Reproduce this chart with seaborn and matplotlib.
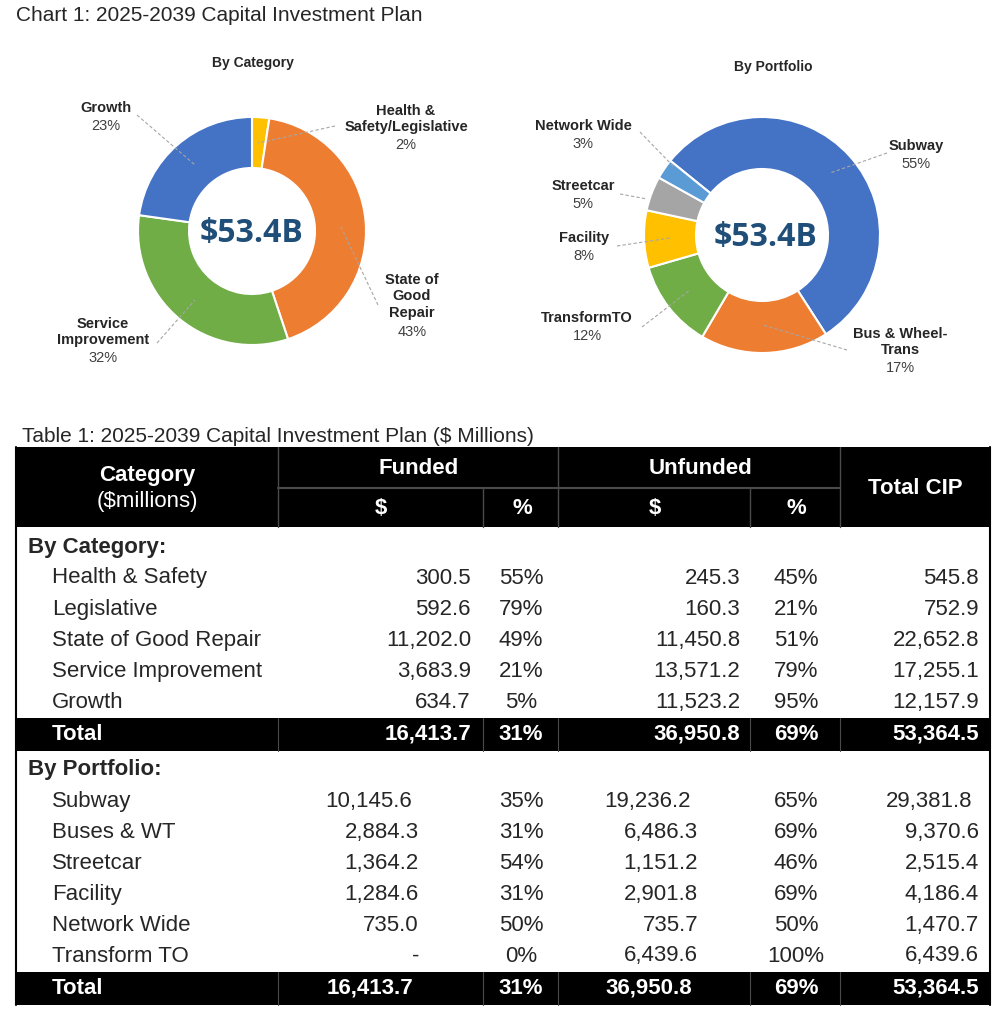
import matplotlib
matplotlib.use("Agg")
import matplotlib.pyplot as plt
import seaborn as sns
from matplotlib.patches import Rectangle

sns.set_style("white")
plt.rcParams['font.family'] = ['Liberation Sans', 'DejaVu Sans']

W, H = 1005, 1015

# Donut data
cat_names = ["Health &\nSafety/Legislative", "State of\nGood\nRepair", "Service\nImprovement", "Growth"]
cat_values = [1298.7, 22652.8, 17255.1, 12157.9]
cat_pct = ["2%", "43%", "32%", "23%"]

port_names = ["Subway", "Bus & Wheel-\nTrans", "TransformTO", "Facility", "Streetcar", "Network Wide"]
port_values = [29381.8, 9370.6, 6439.6, 4186.4, 2515.4, 1470.7]
port_pct = ["55%", "17%", "12%", "8%", "5%", "3%"]

center_label = "$53.4B"

office = sns.color_palette(["#4472C4", "#ED7D31", "#A5A5A5", "#FFC000", "#5B9BD5", "#70AD47"])
cat_colors = [office[3], office[1], office[5], office[0]]
port_colors = [office[0], office[1], office[5], office[3], office[2], office[4]]

# Table data
cat_rows = ["Health & Safety", "Legislative", "State of Good Repair", "Service Improvement", "Growth"]
cat_funded = [300.5, 592.6, 11202.0, 3683.9, 634.7]
cat_funded_pct = [55, 79, 49, 21, 5]
cat_unfunded = [245.3, 160.3, 11450.8, 13571.2, 11523.2]
cat_unfunded_pct = [45, 21, 51, 79, 95]
cat_total = [545.8, 752.9, 22652.8, 17255.1, 12157.9]

port_rows = ["Subway", "Buses & WT", "Streetcar", "Facility", "Network Wide", "Transform TO"]
port_funded = [10145.6, 2884.3, 1364.2, 1284.6, 735.0, None]
port_funded_pct = [35, 31, 54, 31, 50, 0]
port_unfunded = [19236.2, 6486.3, 1151.2, 2901.8, 735.7, 6439.6]
port_unfunded_pct = [65, 69, 46, 69, 50, 100]
port_total = [29381.8, 9370.6, 2515.4, 4186.4, 1470.7, 6439.6]

tot_funded, tot_funded_pct = 16413.7, 31
tot_unfunded, tot_unfunded_pct = 36950.8, 69
tot_cip = 53364.5

fig = plt.figure(figsize=(W / 100, H / 100), dpi=100)


def donut(cx, cy, r, r_in, values, colors, start):
    pad = 4
    ax = fig.add_axes([(cx - r - pad) / W, 1 - (cy + r + pad) / H, 2 * (r + pad) / W, 2 * (r + pad) / H])
    ax.pie(values, colors=colors, startangle=start, counterclock=False, radius=1,
           wedgeprops=dict(width=1 - r_in / r, edgecolor='white', linewidth=1.5))
    lim = (r + pad) / r
    ax.set_xlim(-lim, lim)
    ax.set_ylim(-lim, lim)
    ax.set_aspect('auto')
    ax.axis('off')
    return ax


donut(252, 231, 114, 63, cat_values, cat_colors, 90)
donut(762, 235, 118, 66, port_values, port_colors, 141)

# overlay in pixel coordinates
ov = fig.add_axes([0, 0, 1, 1])
ov.set_xlim(0, W)
ov.set_ylim(H, 0)
ov.axis('off')

ov.text(16, 15, "Chart 1: 2025-2039 Capital Investment Plan", fontsize=15, va='center')
ov.text(253, 63, "By Category", fontsize=10, weight='bold', ha='center', va='center', color='#262626')
ov.text(773, 67, "By Portfolio", fontsize=10, weight='bold', ha='center', va='center', color='#262626')

for x, y in [(252, 233), (766, 237)]:
    ov.text(x, y, center_label, family=['Open Sans', 'DejaVu Sans'], weight='bold', fontsize=23,
            color='#1F4E79', ha='center', va='center')

LH = 17.5


def label(x, y, name, pct):
    n = name.count("\n") + 1
    ov.text(x, y + (n - 1) * LH / 2, name, ha='center', va='center', weight='bold',
            fontsize=10.5, color='#262626', linespacing=1.2)
    ov.text(x, y + n * LH, pct, ha='center', va='center', fontsize=10.5, color='#404040')


def leader(x1, y1, x2, y2):
    ov.plot([x1, x2], [y1, y2], color='#A6A6A6', lw=0.8, ls=(0, (3, 2)))


cat_pos = [(406, 110), (412, 279), (103, 323), (106, 108)]
cat_lines = [(335, 126, 258, 143), (378, 305, 340, 225), (157, 343, 195, 300), (137, 115, 195, 165)]
for (x, y), nm, p, ln in zip(cat_pos, cat_names, cat_pct, cat_lines):
    label(x, y, nm, p)
    leader(*ln)

port_pos = [(916, 146), (900, 333), (587, 318), (584, 238), (583, 186), (583, 126)]
port_lines = [(887, 153, 830, 173), (847, 350, 763, 325), (642, 327, 690, 290),
              (617, 246, 670, 238), (620, 194, 647, 199), (640, 132, 675, 168)]
for (x, y), nm, p, ln in zip(port_pos, port_names, port_pct, port_lines):
    label(x, y, nm, p)
    leader(*ln)

# Table
FS = 16
ov.text(22, 436, "Table 1: 2025-2039 Capital Investment Plan ($ Millions)", fontsize=15, va='center')
L, R = 16, 990
ov.add_patch(Rectangle((L, 447), R - L, 80, color='black', lw=0))
grey = '#4a4a4a'
for x in [278, 558, 840]:
    ov.plot([x, x], [447, 527], color=grey, lw=1)
ov.plot([278, 840], [488, 488], color=grey, lw=1.5)
for x in [483, 750]:
    ov.plot([x, x], [488, 527], color=grey, lw=1)

hdr = dict(color='white', fontsize=FS, ha='center', va='center')
ov.text(147, 475, "Category", weight='bold', **hdr)
ov.text(147, 502, "($millions)", **hdr)
ov.text(419, 469, "Funded", weight='bold', **hdr)
ov.text(700, 469, "Unfunded", weight='bold', **hdr)
ov.text(381, 509, "$", weight='bold', **hdr)
ov.text(522, 509, "%", weight='bold', **hdr)
ov.text(655, 509, "$", weight='bold', **hdr)
ov.text(796, 509, "%", weight='bold', **hdr)
ov.text(915, 489, "Total CIP", weight='bold', **hdr)


def fmt(v):
    return "-" if v is None else f"{v:,.1f}"


def section(y_head, title, y0, step, names, f, fp, u, up, t, cols, offs, y_tot, tot_off):
    ov.text(28, y_head, title, fontsize=FS, weight='bold', va='center')
    xf, xfp, xu, xup, xt = cols
    for i, nm in enumerate(names):
        y = y0 + i * step
        o = offs[i]
        ov.text(52, y, nm, fontsize=FS, va='center')
        ov.text(xf + o, y, fmt(f[i]), fontsize=FS, va='center', ha='right')
        ov.text(xfp, y, f"{fp[i]}%", fontsize=FS, va='center', ha='center')
        ov.text(xu + o, y, fmt(u[i]), fontsize=FS, va='center', ha='right')
        ov.text(xup, y, f"{up[i]}%", fontsize=FS, va='center', ha='center')
        ov.text(xt + o, y, fmt(t[i]), fontsize=FS, va='center', ha='right')
    # total band
    ov.add_patch(Rectangle((L, y_tot - 16), R - L, 33, color='black', lw=0))
    for x in [278, 483, 558, 750, 840]:
        ov.plot([x, x], [y_tot - 16, y_tot + 17], color=grey, lw=0.8)
    tk = dict(fontsize=FS, va='center', color='white', weight='bold')
    ov.text(52, y_tot, "Total", **tk)
    ov.text(xf + tot_off, y_tot, fmt(tot_funded), ha='right', **tk)
    ov.text(xfp, y_tot, f"{tot_funded_pct}%", ha='center', **tk)
    ov.text(xu + tot_off, y_tot, fmt(tot_unfunded), ha='right', **tk)
    ov.text(xup, y_tot, f"{tot_unfunded_pct}%", ha='center', **tk)
    ov.text(xt, y_tot, fmt(tot_cip), ha='right', **tk)


section(548, "By Category:", 578, 31.1, cat_rows, cat_funded, cat_funded_pct, cat_unfunded,
        cat_unfunded_pct, cat_total, (471, 521, 740, 796, 979), [0] * 5, 734, 0)
section(770, "By Portfolio:", 801.5, 30.9, port_rows, port_funded, port_funded_pct, port_unfunded,
        port_unfunded_pct, port_total, (419, 521, 698, 796, 979), [-7, 0, 0, 0, 0, 0], 988, -6)

# outer border
ov.plot([L, L], [447, 1005], color='black', lw=1.5)
ov.plot([R, R], [447, 1005], color='black', lw=1.5)

fig.savefig("out.png", dpi=100)
